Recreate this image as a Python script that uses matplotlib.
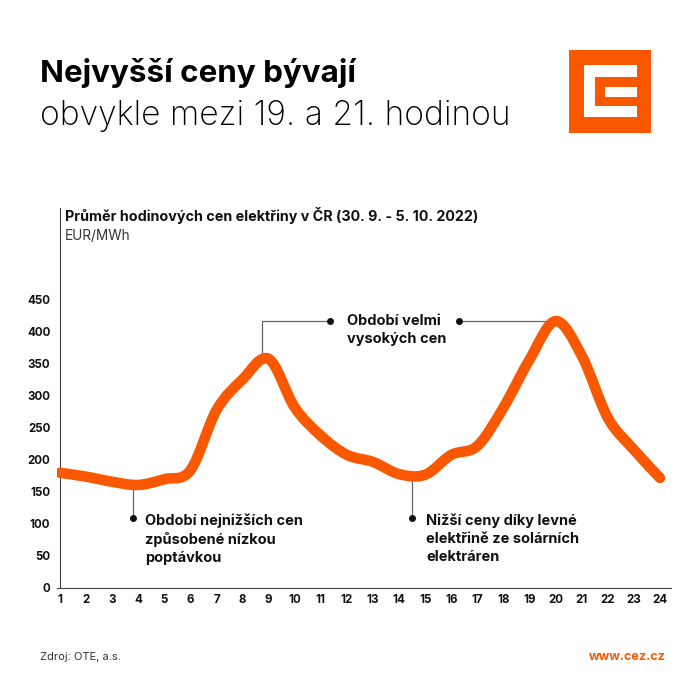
import numpy as np
import matplotlib
matplotlib.use("Agg")
import matplotlib.pyplot as plt
from matplotlib.patches import Rectangle, PathPatch
from matplotlib.path import Path

plt.rcParams['font.family'] = ['Inter', 'DejaVu Sans']

# ---- data ----
hours = list(range(1, 25))
prices = [180, 174, 166, 161, 170, 184, 278, 326, 358, 282, 238, 208,
          197, 178, 177, 208, 222, 282, 357, 417, 363, 266, 216, 172]
y_ticks = [0, 50, 100, 150, 200, 250, 300, 350, 400, 450]

title_bold = "Nejvyšší ceny bývají"
title_reg = "obvykle mezi 19. a 21. hodinou"
chart_title = "Průměr hodinových cen elektřiny v ČR (30. 9. - 5. 10. 2022)"
unit = "EUR/MWh"
note_low = "Období nejnižších cen\nzpůsobené nízkou\npoptávkou"
note_high = "Období velmi\nvysokých cen"
note_solar = "Nižší ceny díky levné\nelektřině ze solárních\nelektráren"
source = "Zdroj: OTE, a.s."
web = "www.cez.cz"

ORANGE = "#F95700"
GREY = "#666666"

W = H = 700
fig = plt.figure(figsize=(7, 7), dpi=100)
fig.patch.set_facecolor("white")

def fx(x):
    return x / W

def fy(y):
    return 1 - y / H

# axes placement (pixels)
ax_l, ax_r, ax_t, ax_b = 57, 671, 208, 588
ax = fig.add_axes([fx(ax_l), fy(ax_b), (ax_r - ax_l) / W, (ax_b - ax_t) / H])
px_per_hour = (660 - 60) / 23
ax.set_xlim(1 - (60 - ax_l) / px_per_hour, 24 + (ax_r - 660) / px_per_hour)
px_per_val = (588 - 300) / 450
ax.set_ylim(0, (ax_b - ax_t) / px_per_val)

# smooth stroke through the hourly values (Catmull-Rom as cubic Bezier path)
P = np.column_stack([hours, prices]).astype(float)
verts = [tuple(P[0])]
codes = [Path.MOVETO]
n = len(P)
for i in range(n - 1):
    p0 = P[i - 1] if i > 0 else P[i]
    p1, p2 = P[i], P[i + 1]
    p3 = P[i + 2] if i + 2 < n else P[i + 1]
    c1 = p1 + (p2 - p0) / 6.0
    c2 = p2 - (p3 - p1) / 6.0
    verts += [tuple(c1), tuple(c2), tuple(p2)]
    codes += [Path.CURVE4] * 3
ax.add_patch(PathPatch(Path(verts, codes), facecolor='none', edgecolor=ORANGE,
                       lw=7.6, capstyle='round', joinstyle='round', zorder=3))

for s in ['top', 'right']:
    ax.spines[s].set_visible(False)
ax.spines['left'].set_position(('data', 1))
ax.spines['left'].set_color("#444444")
ax.spines['bottom'].set_color("#444444")
ax.spines['left'].set_linewidth(0.8)
ax.spines['bottom'].set_linewidth(0.8)

ax.set_xticks(hours)
ax.set_xticklabels([str(h) for h in hours])
ax.set_yticks(y_ticks)
ax.set_yticklabels([str(v) for v in y_ticks])
ax.tick_params(axis='x', length=0, pad=4, labelsize=8.3, colors='#111111')
ax.tick_params(axis='y', length=0, pad=7, labelsize=8.3, colors='#111111')
for lab in ax.get_xticklabels() + ax.get_yticklabels():
    lab.set_fontweight('bold')

# ---- annotations ----
def val(px_y):
    return (ax_b - px_y) / px_per_val

def hr(px_x):
    return 1 + (px_x - 60) / px_per_hour

ann_kw = dict(fontsize=10.5, fontweight='bold', color='#111111', linespacing=1.35)
dot_kw = dict(marker='o', ms=4, color='#111111', zorder=4, ls='none')
lkw = dict(color=GREY, lw=0.9, zorder=2)

# low prices (night)
x_low = hr(133)
y_dot = val(518)
ax.plot([x_low, x_low], [y_dot, np.interp(x_low, hours, prices)], **lkw)
ax.plot([x_low], [y_dot], **dot_kw)
ax.text(hr(145), val(539), note_low, va='center', ha='left', **ann_kw)

# solar dip
x_sol = hr(412)
ax.plot([x_sol, x_sol], [y_dot, np.interp(x_sol, hours, prices) - 5], **lkw)
ax.plot([x_sol], [y_dot], **dot_kw)
ax.text(hr(426), val(539), note_solar, va='center', ha='left', **ann_kw)

# high prices
peak_all = max(prices)
i1 = int(np.argmax(prices[:12]))
x_p1 = hr(262)
x_d1 = hr(330)
ax.plot([x_p1, x_p1, x_d1], [prices[i1] - 5, peak_all, peak_all], **lkw)
ax.plot([x_d1], [peak_all], **dot_kw)
i2 = int(np.argmax(prices))
x_d2 = hr(459)
ax.plot([x_d2, hours[i2]], [peak_all, peak_all], **lkw)
ax.plot([x_d2], [peak_all], **dot_kw)
ax.text(hr(347), val(330), note_high, va='center', ha='left', **ann_kw)

# chart title inside axes area
fig.text(fx(65), fy(215), chart_title, fontsize=10.3, fontweight='bold',
         color='#111111', va='center', ha='left')
fig.text(fx(65), fy(236), unit, fontsize=9.8, color='#333333',
         va='center', ha='left')

# ---- headline ----
fig.text(fx(40), fy(82), title_bold, fontsize=22.6, fontweight='bold',
         color='#000000', va='baseline', ha='left')
fig.text(fx(40), fy(125), title_reg, fontsize=24.2, fontweight='light',
         color='#000000', va='baseline', ha='left')

# ---- logo ----
def rect(x0, y0, x1, y1, c):
    fig.patches.append(Rectangle((fx(x0), fy(y1)), (x1 - x0) / W, (y1 - y0) / H,
                                 transform=fig.transFigure, facecolor=c,
                                 edgecolor='none'))

rect(569, 50, 651, 133, ORANGE)
rect(584, 65, 595, 117, 'white')
rect(584, 65, 637, 77, 'white')
rect(584, 106, 637, 117, 'white')
rect(605, 87, 637, 97, 'white')

# ---- footer ----
fig.text(fx(40), fy(657), source, fontsize=8, color='#333333',
         va='center', ha='left')
fig.text(fx(666), fy(657), web, fontsize=9, fontweight='bold', color=ORANGE,
         va='center', ha='right')

fig.savefig("out.png", dpi=100)
